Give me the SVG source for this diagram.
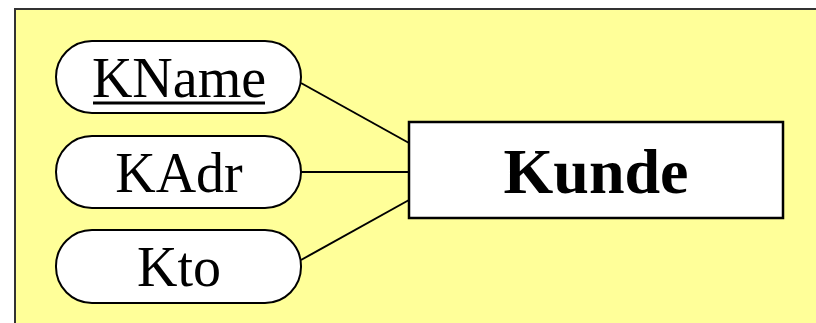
<svg xmlns="http://www.w3.org/2000/svg" width="816" height="323" viewBox="0 0 816 323">
<style>
.attr{fill:#fff;stroke:#000;stroke-width:2}
.ent{fill:#fff;stroke:#000;stroke-width:2.5}
.t{font-family:"Liberation Serif","Times New Roman",serif;font-size:56px;fill:#000;text-anchor:middle}
.tb{font-family:"Liberation Serif","Times New Roman",serif;font-size:64px;font-weight:bold;fill:#000;text-anchor:middle}
.c{stroke:#000;stroke-width:2;fill:none}
</style>
<rect x="0" y="0" width="816" height="323" fill="#fff"/>
<rect id="panel" x="15" y="9" width="810" height="330" fill="#FFFF99" stroke="#333" stroke-width="2"/>
<g id="connectors">
<line class="c" x1="301" y1="83" x2="409" y2="143"/>
<line class="c" x1="301" y1="172" x2="409" y2="172"/>
<line class="c" x1="301" y1="260" x2="409" y2="200"/>
</g>
<g id="kname">
<rect class="attr" x="56" y="41" width="245" height="72" rx="36" ry="36"/>
<text class="t" x="179" y="97">KName</text>
<rect x="93" y="101.5" width="172" height="3" fill="#000"/>
</g>
<g id="kadr">
<rect class="attr" x="56" y="136" width="245" height="72" rx="36" ry="36"/>
<text class="t" x="179" y="192">KAdr</text>
</g>
<g id="kto">
<rect class="attr" x="56" y="230" width="245" height="73" rx="36" ry="36"/>
<text class="t" x="179" y="286">Kto</text>
</g>
<g id="kunde">
<rect class="ent" x="409" y="122" width="374" height="96"/>
<text class="tb" x="596" y="193">Kunde</text>
</g>
</svg>
